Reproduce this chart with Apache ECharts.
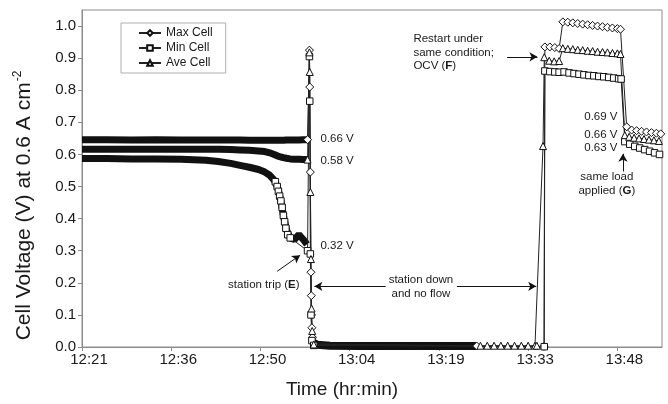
<!DOCTYPE html>
<html>
<head>
<meta charset="utf-8">
<title>Cell voltage at 0.6 A cm-2</title>
<script src="https://cdn.jsdelivr.net/npm/echarts@6/dist/echarts.min.js"></script>
<style>
  html, body { margin: 0; padding: 0; background: #fff; }
  #chart { width: 668px; height: 404px; }
</style>
</head>
<body>
<div id="chart"></div>
<script>
// time is kept as minutes elapsed from the axis start (12:21:36); ticks every 14.4 min
var tickLabels = ['12:21', '12:36', '12:50', '13:04', '13:19', '13:33', '13:48'];
var tickValues = [0, 14.4, 28.8, 43.2, 57.6, 72, 86.4];
var yTicks = [0, 0.1, 0.2, 0.3, 0.4, 0.5, 0.6, 0.7, 0.8, 0.9, 1.0];

// before the trip the logger is so dense it prints as solid bands
var runTime = [0, 4, 8, 12, 16, 20, 22, 24, 25.5, 27, 28.5, 29.5, 30.3, 31, 31.6, 32.1, 32.5, 33, 33.6, 34.3, 35, 35.7, 36.3];
var runMax = [0.646, 0.646, 0.645, 0.646, 0.645, 0.645, 0.645, 0.645, 0.645, 0.644, 0.644, 0.644, 0.644, 0.644, 0.644, 0.644, 0.644, 0.645, 0.645, 0.645, 0.645, 0.646, 0.646];
var runAve = [0.616, 0.616, 0.616, 0.616, 0.616, 0.616, 0.616, 0.615, 0.614, 0.613, 0.611, 0.609, 0.605, 0.600, 0.595, 0.592, 0.590, 0.588, 0.586, 0.585, 0.585, 0.584, 0.584];
var runMin = [0.587, 0.587, 0.586, 0.586, 0.585, 0.582, 0.578, 0.572, 0.566, 0.560, 0.553, 0.545, 0.535, 0.520, 0.495, 0.455, 0.410, 0.365, 0.340, 0.335, 0.350, 0.335, 0.320];

// station down, every cell sitting on zero (also a solid band)
var offTime = [37.3, 38, 40, 45, 50, 55, 60, 63.7];
var offVolt = [0.014, 0.007, 0.004, 0.003, 0.003, 0.003, 0.003, 0.003];

// points where the markers can be told apart
var maxTime = [36.4, 36.7, 36.75, 36.85, 36.95, 37.0, 37.05, 37.1, 37.2, 37.4, 63.7, 74.55, 74.7, 75.5, 76.3, 77.0, 77.6, 78.4, 79.2, 80.0, 80.8, 81.6, 82.4, 83.2, 84.0, 84.8, 85.6, 86.4, 86.9, 87.9, 88.7, 89.5, 90.3, 91.1, 91.9, 92.7, 93.4];
var maxVolt = [0.646, 0.925, 0.810, 0.545, 0.233, 0.160, 0.100, 0.060, 0.030, 0.010, 0.003, 0.002, 0.935, 0.935, 0.933, 0.930, 1.013, 1.012, 1.010, 1.008, 1.006, 1.004, 1.002, 1.000, 0.998, 0.996, 0.994, 0.992, 0.990, 0.686, 0.676, 0.674, 0.672, 0.670, 0.668, 0.666, 0.664];

var minTime = [31.2, 31.5, 31.7, 31.9, 32.1, 32.3, 32.5, 32.7, 32.9, 33.2, 33.6, 36.4, 36.7, 36.75, 36.85, 36.95, 37.1, 37.4, 74.6, 74.7, 75.5, 76.3, 77.0, 77.8, 78.6, 79.4, 80.2, 81.0, 81.8, 82.6, 83.4, 84.2, 85.0, 85.8, 86.6, 87.0, 87.6, 88.4, 89.2, 90.0, 90.8, 91.6, 92.4, 93.2];
var minVolt = [0.515, 0.500, 0.485, 0.470, 0.455, 0.435, 0.410, 0.390, 0.370, 0.350, 0.340, 0.300, 0.905, 0.766, 0.290, 0.100, 0.020, 0.005, 0.001, 0.860, 0.858, 0.857, 0.856, 0.857, 0.854, 0.852, 0.850, 0.848, 0.846, 0.845, 0.843, 0.842, 0.840, 0.838, 0.836, 0.835, 0.640, 0.632, 0.625, 0.620, 0.615, 0.610, 0.605, 0.600];

var aveTime = [36.4, 36.7, 36.75, 36.85, 36.95, 37.05, 37.15, 37.4, 64.3, 65.4, 66.5, 67.6, 68.7, 69.8, 70.9, 72.0, 73.1, 73.4, 74.4, 74.6, 75.4, 76.2, 77.0, 77.6, 78.4, 79.2, 80.0, 80.8, 81.6, 82.4, 83.2, 84.0, 84.8, 85.6, 86.4, 86.9, 87.6, 88.3, 89.1, 89.9, 90.7, 91.5, 92.3, 93.1];
var aveVolt = [0.584, 0.918, 0.857, 0.483, 0.274, 0.120, 0.050, 0.008, 0.004, 0.004, 0.004, 0.004, 0.004, 0.004, 0.004, 0.004, 0.004, 0.004, 0.626, 0.903, 0.892, 0.890, 0.891, 0.931, 0.929, 0.928, 0.926, 0.925, 0.923, 0.922, 0.920, 0.919, 0.918, 0.916, 0.915, 0.913, 0.660, 0.655, 0.652, 0.650, 0.648, 0.646, 0.644, 0.642];

function pairs(ts, vs) {
    return ts.map(function (t, i) { return [t, vs[i]]; });
}

var font = "'Liberation Sans', Arial, sans-serif";
var ink = '#1a1a1a';

function band(data, width) {
    return {
        type: 'line',
        data: data,
        symbol: 'none',
        silent: true,
        z: 2,
        lineStyle: { color: '#111', width: width }
    };
}

function cell(name, symbol, size, data) {
    return {
        name: name,
        type: 'line',
        data: data,
        symbol: symbol,
        symbolSize: size,
        showAllSymbol: true,
        z: 3,
        lineStyle: { color: '#222', width: 1 },
        itemStyle: { color: '#fff', borderColor: '#111', borderWidth: 1 }
    };
}

function note(coord, text, pos) {
    return { coord: coord, label: { position: pos, formatter: text } };
}

function arrow(from, to) {
    return [{ coord: from }, { coord: to }];
}

var chart = echarts.init(document.getElementById('chart'));

var option = {
    animation: false,
    backgroundColor: '#fff',
    textStyle: { fontFamily: font, color: ink },
    grid: {
        left: 82, right: 6, top: 10, bottom: 55,
        show: true, borderColor: '#8c8c8c', borderWidth: 1
    },
    legend: {
        data: ['Max Cell', 'Min Cell', 'Ave Cell'],
        orient: 'vertical',
        left: 121,
        top: 23,
        itemWidth: 22,
        itemHeight: 7,
        itemGap: 3,
        padding: [4, 13, 4, 17],
        backgroundColor: '#fff',
        borderColor: '#b0b0b0',
        borderWidth: 1,
        textStyle: { fontFamily: font, fontSize: 12, color: ink }
    },
    xAxis: {
        type: 'value',
        min: 0,
        max: 93.6,
        name: 'Time (hr:min)',
        nameLocation: 'middle',
        nameGap: 33,
        nameTextStyle: { fontFamily: font, fontSize: 19, color: ink, padding: [0, 60, 0, 0] },
        axisLine: { lineStyle: { color: '#8c8c8c' } },
        axisTick: { inside: false, length: 4, customValues: tickValues, lineStyle: { color: '#8c8c8c' } },
        axisLabel: {
            customValues: tickValues,
            fontFamily: font, fontSize: 15, color: ink, margin: 5,
            padding: [0, 0, 0, 14],
            formatter: function (v) { return tickLabels[Math.round(v / 14.4)] || ''; }
        },
        splitLine: { show: false }
    },
    yAxis: {
        type: 'value',
        min: 0,
        max: 1.05,
        name: '{t|Cell Voltage (V) at 0.6 A cm}{s|-2}',
        nameLocation: 'middle',
        nameGap: 45,
        nameRotate: 90,
        nameTextStyle: {
            fontFamily: font, color: ink, padding: [0, 54, 0, 0],
            rich: {
                t: { fontFamily: font, fontSize: 21, color: ink },
                s: { fontFamily: font, fontSize: 12, color: ink, padding: [0, 0, 13, 1] }
            }
        },
        axisLine: { show: true, lineStyle: { color: '#8c8c8c' } },
        axisTick: { show: true, inside: false, length: 4, customValues: yTicks, lineStyle: { color: '#8c8c8c' } },
        axisLabel: {
            customValues: yTicks,
            fontFamily: font, fontSize: 15, color: ink, margin: 6,
            formatter: function (v) { return v.toFixed(1); }
        },
        splitLine: { show: false }
    },
    series: [
        band(pairs(runTime, runMax), 7),
        band(pairs(runTime, runAve), 7),
        band(pairs(runTime, runMin), 7),
        band(pairs(offTime, offVolt), 8),
        cell('Max Cell', 'diamond', 8, pairs(maxTime, maxVolt)),
        cell('Min Cell', 'rect', 6.5, pairs(minTime, minVolt)),
        cell('Ave Cell', 'triangle', 7, pairs(aveTime, aveVolt)),
        {
            name: 'notes',
            type: 'line',
            data: [],
            z: 5,
            markPoint: {
                symbol: 'rect',
                symbolSize: 1,
                silent: true,
                itemStyle: { color: 'transparent' },
                label: {
                    show: true, distance: 0, color: ink, fontFamily: font, fontSize: 11.5,
                    lineHeight: 13.5,
                    rich: { bold: { fontWeight: 'bold', fontFamily: font, fontSize: 11.5, color: ink } }
                },
                data: [
                    note([38.4, 0.649], '0.66 V', 'right'),
                    note([38.4, 0.581], '0.58 V', 'right'),
                    note([38.4, 0.314], '0.32 V', 'right'),
                    note([35.2, 0.193], 'station trip ({bold|E})', 'left'),
                    note([54.7, 0.188], 'station down\nand no flow', 'inside'),
                    note([53.4, 0.918], 'Restart under\nsame condition;\nOCV ({bold|F})', 'right'),
                    note([86.5, 0.717], '0.69 V', 'left'),
                    note([86.5, 0.661], '0.66 V', 'left'),
                    note([86.5, 0.621], '0.63 V', 'left'),
                    note([84.7, 0.508], 'same load\napplied ({bold|G})', 'inside')
                ]
            },
            markLine: {
                silent: true,
                symbol: ['none', 'arrow'],
                symbolSize: [7, 8],
                label: { show: false },
                lineStyle: { color: '#111', width: 1, type: 'solid' },
                data: [
                    arrow([31.5, 0.236], [35.2, 0.286]),
                    arrow([68.6, 0.904], [73.5, 0.904]),
                    arrow([87.3, 0.547], [87.3, 0.602]),
                    arrow([49.0, 0.189], [37.5, 0.189]),
                    arrow([60.5, 0.189], [73.3, 0.189])
                ]
            }
        }
    ]
};

chart.setOption(option);
</script>
</body>
</html>
